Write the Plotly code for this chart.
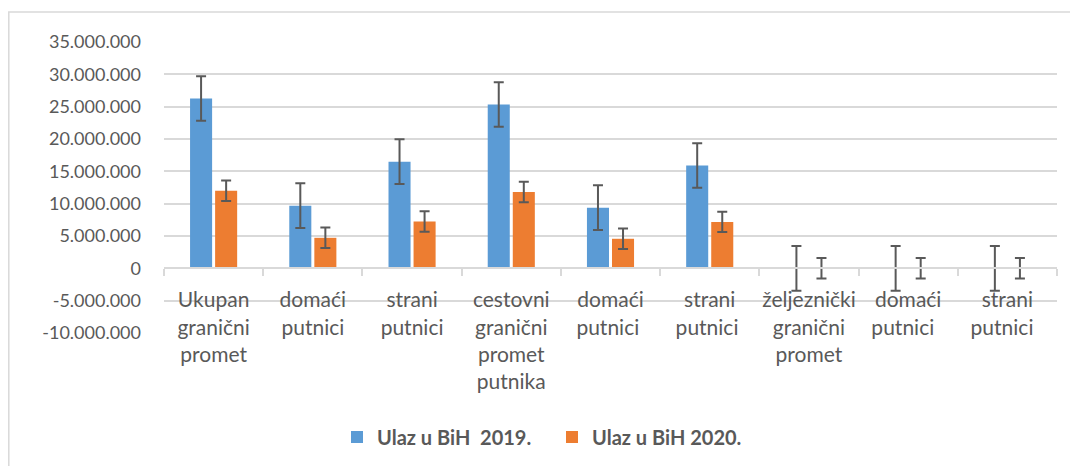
import plotly.graph_objects as go

categories = [
    "Ukupan<br>granični<br>promet",
    "domaći<br>putnici",
    "strani<br>putnici",
    "cestovni<br>granični<br>promet<br>putnika",
    "domaći<br>putnici ",
    "strani<br>putnici ",
    "željeznički<br>granični<br>promet",
    "domaći<br>putnici  ",
    "strani<br>putnici  ",
]
series_names = ["Ulaz u BiH\u00a0 2019.", "Ulaz u BiH 2020."]
values_2019 = [26260000, 9690000, 16500000, 25330000, 9380000, 15900000, 0, 0, 0]
values_2020 = [12000000, 4720000, 7230000, 11800000, 4570000, 7180000, 0, 0, 0]
errors_2019 = [3450000] * 9
errors_2020 = [1580000] * 9
tick_values = [-10000000, -5000000, 0, 5000000, 10000000, 15000000, 20000000, 25000000, 30000000, 35000000]
tick_labels = ["-10.000.000", "-5.000.000", "0", "5.000.000", "10.000.000", "15.000.000",
               "20.000.000", "25.000.000", "30.000.000", "35.000.000"]

BLUE = "#5B9BD5"
ORANGE = "#ED7D31"
GRID = "#D9D9D9"
TEXT = "#595959"
FONT = "Lato, 'Open Sans', sans-serif"

W, H = 1078, 466
OFF = 8  # page body margin
plot_left, plot_right, plot_top, plot_bottom = 164, 1057, 42, 333
ml = plot_left - OFF
mt = plot_top - OFF
mr = W - (plot_right - OFF)
mb = H - (plot_bottom - OFF)
pw, ph = W - ml - mr, H - mt - mb

fig = go.Figure()
fig.add_trace(go.Bar(
    x=categories, y=values_2019, name=series_names[0],
    marker=dict(color=BLUE, line=dict(width=0)),
    error_y=dict(type="data", array=errors_2019, visible=True, color=TEXT, thickness=2, width=5),
))
fig.add_trace(go.Bar(
    x=categories, y=values_2020, name=series_names[1],
    marker=dict(color=ORANGE, line=dict(width=0)),
    error_y=dict(type="data", array=errors_2020, visible=True, color=TEXT, thickness=2, width=5),
))

ymin, ymax = -10000000, 35000000
zero_pos = (0 - ymin) / (ymax - ymin)

def px_x(p):
    return (p - plot_left) / pw

def px_y(p):
    return (plot_bottom - p) / ph

fig.add_shape(type="rect", xref="paper", yref="paper",
              x0=px_x(8.8), x1=px_x(1200), y0=px_y(12), y1=px_y(520),
              line=dict(color=GRID, width=1.5), fillcolor="rgba(0,0,0,0)", layer="below")

fig.update_layout(
    template="none",
    width=W, height=H,
    margin=dict(l=ml, r=mr, t=mt, b=mb, pad=0, autoexpand=False),
    paper_bgcolor="white", plot_bgcolor="white",
    barmode="group", bargap=0.495, bargroupgap=0.12,
    font=dict(family=FONT, color=TEXT, size=20),
    showlegend=True,
    legend=dict(orientation="h", x=px_x(337), xanchor="left", y=px_y(437), yanchor="middle",
                font=dict(family=FONT, size=20, color=TEXT, weight="bold"),
                itemsizing="constant", entrywidth=170, bgcolor="rgba(0,0,0,0)", borderwidth=0),
    xaxis=dict(anchor="free", position=zero_pos, showline=True, linecolor=GRID, linewidth=1.5,
               ticks="outside", tickson="boundaries", ticklen=7, tickcolor=GRID, tickwidth=1.5,
               showgrid=False, zeroline=False, tickangle=0, ticklabelstandoff=13, automargin=False,
               tickfont=dict(family=FONT, size=21, color=TEXT)),
    yaxis=dict(range=[ymin, ymax], tickvals=tick_values, ticktext=tick_labels,
               showgrid=True, gridcolor=GRID, gridwidth=1.5, zeroline=False,
               showline=False, ticks="", ticklabelstandoff=22, automargin=False,
               tickfont=dict(family=FONT, size=18, color=TEXT)),
)

fig.write_html("out.html")
